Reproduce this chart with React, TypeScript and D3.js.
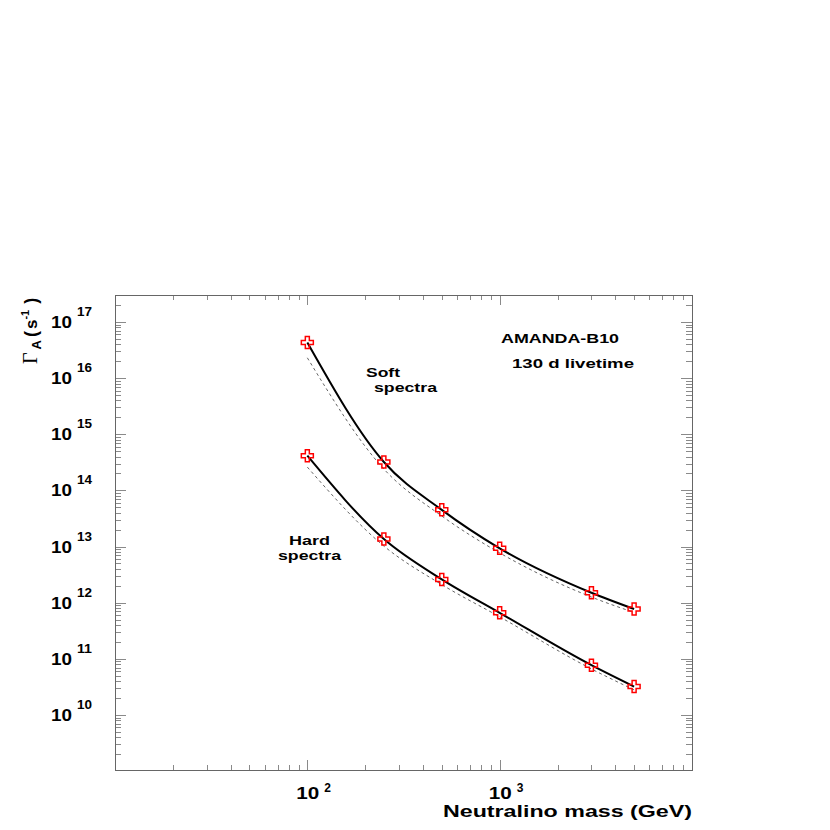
import * as React from "react";
import * as d3 from "d3";

// neutralino mass points (GeV)
const massGeV = [100, 250, 500, 1000, 3000, 5000];
// annihilation rate limits Gamma_A (s^-1)
const softLimit = [4.3e16, 3.2e14, 4.5e13, 9.3e12, 1.5e12, 7.7e11];
const softLimitDashed = [2.3e16, 2.4e14, 3.5e13, 7.7e12, 1.26e12, 6.7e11];
const hardLimit = [4.15e14, 1.36e13, 2.6e12, 6.6e11, 7.7e10, 3.2e10];
const hardLimitDashed = [2.6e14, 1.02e13, 2.1e12, 5.6e11, 6.6e10, 2.8e10];

const xLabelExponents = [2, 3];
const yLabelExponents = [10, 11, 12, 13, 14, 15, 16, 17];

const SANS = "'Liberation Sans', Arial, Helvetica, sans-serif";

export default function App() {
  const ref = React.useRef<SVGSVGElement>(null);

  React.useEffect(() => {
    const svg = d3.select(ref.current);
    svg.selectAll("*").remove();

    const frame = {left: 115, right: 692, top: 295, bottom: 770};

    const x = d3.scaleLog().domain([10, 10000]).range([frame.left, frame.right]);
    const y = d3.scaleLog()
      .domain([Math.pow(10, 9.02), Math.pow(10, 17.48)])
      .range([frame.bottom, frame.top]);

    // log ticks (k * 10^e)
    const logTicks = (scale: d3.ScaleLogarithmic<number, number>) => {
      const [lo, hi] = scale.domain();
      const out: {v: number, major: boolean}[] = [];
      for (let e = Math.floor(Math.log10(lo)); e <= Math.ceil(Math.log10(hi)); e++) {
        for (let k = 1; k <= 9; k++) {
          const v = k * Math.pow(10, e);
          if (v > lo * 1.0001 && v < hi * 0.9999) out.push({v, major: k === 1});
        }
      }
      return out;
    };

    const tickColor = "#8a8a8a";
    const ticks = svg.append("g").attr("stroke", tickColor).attr("stroke-width", 1);

    logTicks(x).forEach(t => {
      const px = Math.round(x(t.v)) + 0.5;
      const len = t.major ? 10 : 5;
      ticks.append("line").attr("x1", px).attr("x2", px)
        .attr("y1", frame.bottom).attr("y2", frame.bottom - len);
      ticks.append("line").attr("x1", px).attr("x2", px)
        .attr("y1", frame.top).attr("y2", frame.top + len);
    });
    logTicks(y).forEach(t => {
      const py = Math.round(y(t.v)) + 0.5;
      const len = t.major ? 11 : 6;
      ticks.append("line").attr("y1", py).attr("y2", py)
        .attr("x1", frame.left).attr("x2", frame.left + len);
      ticks.append("line").attr("y1", py).attr("y2", py)
        .attr("x1", frame.right).attr("x2", frame.right - len);
    });

    // frame
    svg.append("rect")
      .attr("x", frame.left + 0.5).attr("y", frame.top + 0.5)
      .attr("width", frame.right - frame.left).attr("height", frame.bottom - frame.top)
      .attr("fill", "none").attr("stroke", "#666").attr("stroke-width", 1);

    // y tick labels
    const lab = svg.append("g").attr("font-family", SANS).attr("font-weight", "bold").attr("fill", "#000");
    yLabelExponents.forEach(e => {
      const py = y(Math.pow(10, e));
      lab.append("text").attr("x", 72).attr("y", py + 6)
        .attr("text-anchor", "end").attr("font-size", 17)
        .attr("textLength", 21).attr("lengthAdjust", "spacingAndGlyphs")
        .text("10");
      lab.append("text").attr("x", 77).attr("y", py - 6)
        .attr("font-size", 12)
        .attr("textLength", 15).attr("lengthAdjust", "spacingAndGlyphs")
        .text(String(e));
    });

    // x tick labels
    xLabelExponents.forEach(e => {
      const px = x(Math.pow(10, e));
      lab.append("text").attr("x", px - 11).attr("y", 799)
        .attr("font-size", 17)
        .attr("textLength", 23).attr("lengthAdjust", "spacingAndGlyphs")
        .text("10");
      lab.append("text").attr("x", px + 17).attr("y", 792)
        .attr("font-size", 12)
        .text(String(e));
    });

    // axis titles
    svg.append("text")
      .attr("x", 692).attr("y", 817)
      .attr("text-anchor", "end")
      .attr("font-family", SANS).attr("font-weight", "bold").attr("font-size", 16)
      .attr("textLength", 249).attr("lengthAdjust", "spacingAndGlyphs")
      .text("Neutralino mass (GeV)");

    const yTitle = svg.append("text")
      .attr("transform", "translate(37,364) rotate(-90)")
      .attr("font-family", SANS).attr("font-weight", "bold").attr("fill", "#000");
    yTitle.append("tspan").attr("font-family", "'Liberation Serif', 'Times New Roman', serif")
      .attr("font-weight", "normal").attr("font-size", 20).text("Γ");
    yTitle.append("tspan").attr("font-size", 13).attr("dx", 3).attr("dy", 4).text("A");
    yTitle.append("tspan").attr("font-size", 18).attr("dx", 3).attr("dy", -4).text("(");
    yTitle.append("tspan").attr("font-size", 17).attr("dx", 2).text("s");
    yTitle.append("tspan").attr("font-size", 11).attr("dy", -8).text("-1");
    yTitle.append("tspan").attr("font-size", 18).attr("dx", 6).attr("dy", 8).text(")");

    // curves
    const line = d3.line<[number, number]>()
      .x(d => x(d[0]))
      .y(d => y(d[1]))
      .curve(d3.curveMonotoneX);

    const series = [
      {solid: softLimit, dashed: softLimitDashed},
      {solid: hardLimit, dashed: hardLimitDashed},
    ];

    const curves = svg.append("g").attr("fill", "none");
    series.forEach(s => {
      curves.append("path")
        .attr("d", line(massGeV.map((m, i) => [m, s.dashed[i]] as [number, number])))
        .attr("stroke", "#666").attr("stroke-width", 1)
        .attr("stroke-dasharray", "3,3");
      curves.append("path")
        .attr("d", line(massGeV.map((m, i) => [m, s.solid[i]] as [number, number])))
        .attr("stroke", "#000").attr("stroke-width", 2);
    });

    // open-cross markers
    const cross = "M-2,-6H2V-2H6V2H2V6H-2V2H-6V-2H-2Z";
    series.forEach(s => {
      svg.append("g").selectAll("path.marker")
        .data(massGeV.map((m, i) => [m, s.solid[i]]))
        .enter()
        .append("path")
        .attr("class", "marker")
        .attr("d", cross)
        .attr("transform", d => `translate(${x(d[0])},${y(d[1])})`)
        .attr("fill", "none")
        .attr("stroke", "#ff0000")
        .attr("stroke-width", 1.5);
    });

    // annotations
    const notes: [string, number, number, number][] = [
      ["AMANDA-B10", 501, 343, 118],
      ["130 d livetime", 512, 368, 122],
      ["Soft", 366, 377, 34],
      ["spectra", 374, 392, 63],
      ["Hard", 289, 545, 41],
      ["spectra", 278, 560, 63],
    ];
    const ann = svg.append("g").attr("font-family", SANS).attr("font-weight", "bold")
      .attr("font-size", 13).attr("fill", "#000");
    notes.forEach(([s, tx, ty, w]) => {
      ann.append("text").attr("x", tx).attr("y", ty)
        .attr("textLength", w).attr("lengthAdjust", "spacingAndGlyphs")
        .text(s);
    });
  }, []);

  return <svg ref={ref} width={830} height={830}
              style={{position: "absolute", left: 0, top: 0, background: "#fff"}}/>;
}
